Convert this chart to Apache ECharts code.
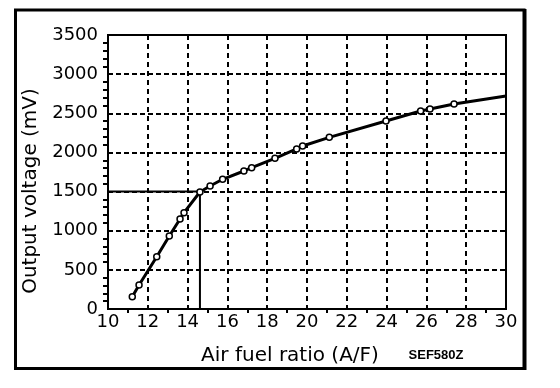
<!DOCTYPE html>
<html>
<head>
<meta charset="utf-8">
<script src="https://cdn.jsdelivr.net/npm/echarts@6/dist/echarts.min.js"></script>
<style>html,body{margin:0;padding:0;background:#fff}#c{width:560px;height:388px}</style>
</head>
<body>
<div id="c"></div>
<script>
// Data
var afRatio = [11.22, 11.56, 12.45, 13.08, 13.62, 13.82, 14.62, 15.13, 15.76, 16.83, 17.22, 18.39, 19.48, 19.78, 21.12, 23.97, 25.71, 26.18, 27.39];
var voltage = [157, 307, 668, 932, 1150, 1230, 1495, 1571, 1657, 1763, 1805, 1925, 2044, 2082, 2193, 2401, 2529, 2555, 2618];
var lineEndX = 30;
var lineEndV = 2721;
var refX = [10, 14.62, 14.62];
var refV = [1500, 1500, 0];
var xTicks = [10, 12, 14, 16, 18, 20, 22, 24, 26, 28, 30];
var yTicks = [0, 500, 1000, 1500, 2000, 2500, 3000, 3500];

var curve = afRatio.map(function (x, i) { return [x, voltage[i]]; });
curve.push({ value: [lineEndX, lineEndV], symbol: 'none' });
var ref = refX.map(function (x, i) { return [x, refV[i]]; });

var chart = echarts.init(document.getElementById('c'), null, { renderer: 'canvas' });
var font = 'DejaVu Sans';
chart.setOption({
  animation: false,
  backgroundColor: '#fff',
  grid: { left: 108, right: 54, top: 35, bottom: 79, show: true, borderColor: '#000', borderWidth: 2, backgroundColor: 'transparent' },
  xAxis: {
    type: 'value', min: xTicks[0], max: xTicks[xTicks.length - 1], interval: 2,
    axisLine: { show: true, lineStyle: { color: '#000', width: 2 } },
    axisTick: { show: false },
    minorTick: { show: true, splitNumber: 2, length: 4, lineStyle: { color: '#000', width: 2 } },
    axisLabel: { color: '#000', fontFamily: font, fontSize: 18, margin: 4, formatter: function (v) { return String(v); } },
    splitLine: { show: true, lineStyle: { color: '#000', width: 2, type: [5, 4] } }
  },
  yAxis: {
    type: 'value', min: yTicks[0], max: yTicks[yTicks.length - 1], interval: 500,
    axisLine: { show: true, lineStyle: { color: '#000', width: 2 } },
    axisTick: { show: false },
    minorTick: { show: true, splitNumber: 5, length: 5, lineStyle: { color: '#000', width: 2 } },
    axisLabel: { color: '#000', fontFamily: font, fontSize: 18, margin: 10, formatter: function (v) { return String(v); } },
    splitLine: { show: true, lineStyle: { color: '#000', width: 2, type: [5, 3] } }
  },
  series: [
    {
      type: 'line', data: ref, symbol: 'none', silent: true,
      lineStyle: { color: '#000', width: 2 }, z: 2
    },
    {
      type: 'line', data: curve, symbol: 'circle', symbolSize: 6, showAllSymbol: true,
      lineStyle: { color: '#000', width: 3 },
      itemStyle: { color: '#fff', borderColor: '#000', borderWidth: 1.5 }, z: 3
    }
  ],
  graphic: [
    { type: 'rect', shape: { x: 15.5, y: 10, width: 508.5, height: 358.5 }, style: { fill: 'none', stroke: '#000', lineWidth: 3 } },
    { type: 'line', shape: { x1: 525.5, y1: 9, x2: 525.5, y2: 370 }, style: { stroke: '#000', lineWidth: 2 } },
    { type: 'text', x: 290, y: 356, style: { text: 'Air fuel ratio (A/F)', font: '20px "DejaVu Sans"', fill: '#000', textAlign: 'center', textVerticalAlign: 'middle' } },
    { type: 'text', x: 31, y: 191, rotation: Math.PI / 2, style: { text: 'Output voltage (mV)', font: '20px "DejaVu Sans"', fill: '#000', textAlign: 'center', textVerticalAlign: 'middle' } },
    { type: 'text', x: 436, y: 355, style: { text: 'SEF580Z', font: 'bold 13px "Liberation Sans"', fill: '#000', textAlign: 'center', textVerticalAlign: 'middle' } }
  ]
});
</script>
</body>
</html>
